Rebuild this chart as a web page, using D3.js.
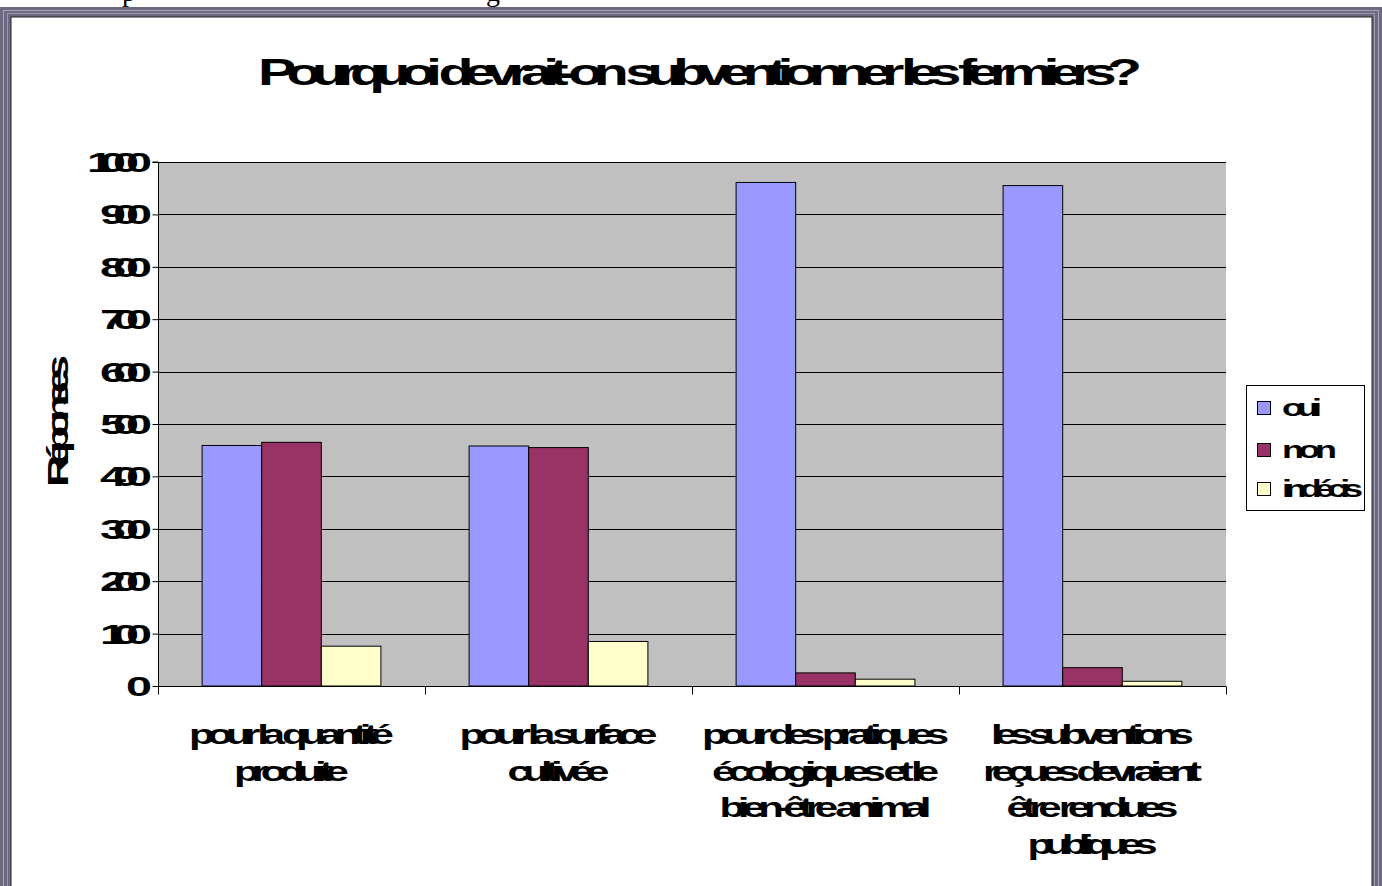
<!DOCTYPE html>
<html><head><meta charset="utf-8">
<script src="https://cdn.jsdelivr.net/npm/d3@7/dist/d3.min.js"></script>
<style>html,body{margin:0;padding:0;background:#fff;overflow:hidden}</style>
</head><body>
<svg id="c" width="1382" height="886"></svg>
<script>
// ---- data ----
const title = "Pourquoi devrait-on subventionner les fermiers?";
const yTitle = "Réponses";
const categories = [
  "pour la quantité\nproduite",
  "pour la surface\ncultivée",
  "pour des pratiques\nécologiques et le\nbien-être animal",
  "les subventions\nreçues devraient\nêtre rendues\npubliques"
];
const seriesNames = ["oui", "non", "indécis"];
const oui = [459, 458, 961, 955];
const non = [465, 455, 25, 35];
const indecis = [76, 85, 13, 9];
const yTicks = [0, 100, 200, 300, 400, 500, 600, 700, 800, 900, 1000];

// ---- layout / style ----
const colors = ["#9999FF", "#993366", "#FFFFCC"];
const FONT = "'Liberation Sans', Arial, sans-serif";
const catLineWidths = [[205, 115], [198, 102], [247, 227, 212], [203, 219, 172, 130]];
const legendWidths = [40, 55, 81];

const svg = d3.select("#c");

function squish(parent, str, o) {
  const g = parent.append("g").attr("transform",
    `translate(${o.x},${o.y})${o.rotate ? ` rotate(${o.rotate})` : ""} scale(${o.sx},1)`);
  const t = g.append("text")
    .attr("text-anchor", o.anchor || "start")
    .attr("font-family", FONT)
    .attr("font-weight", o.weight || "bold")
    .attr("font-size", o.size)
    .attr("fill", "#000")
    .text(str);
  let w = o.width;
  if (o.overlap !== undefined) {
    const nat = t.node().getComputedTextLength();
    w = nat * o.sx - (str.length - 1) * o.overlap;
  }
  if (w && str.length > 1) t.attr("textLength", w / o.sx).attr("lengthAdjust", "spacing");
  return t;
}

// cut-off text line above the frame (as in the reference)
svg.append("text").attr("x", 122).attr("y", 1).attr("font-family", "'Liberation Serif', serif")
  .attr("font-size", 28).text("p");
svg.append("text").attr("x", 486).attr("y", 1).attr("font-family", "'Liberation Serif', serif")
  .attr("font-size", 28).text("g");

// frame
svg.append("rect").attr("x", 0).attr("y", 7).attr("width", 1382).attr("height", 900).attr("fill", "#6f6a84");
svg.append("rect").attr("x", 3.5).attr("y", 10.5).attr("width", 1375).attr("height", 900)
  .attr("fill", "none").attr("stroke", "#a8a4b8").attr("stroke-width", 1);
svg.append("rect").attr("x", 7.5).attr("y", 13.5).attr("width", 1367).attr("height", 900)
  .attr("fill", "none").attr("stroke", "#9c98ad").attr("stroke-width", 1);
svg.append("rect").attr("x", 11).attr("y", 17).attr("width", 1361).attr("height", 900)
  .attr("fill", "#fff").attr("stroke", "#222").attr("stroke-width", 1);

// title
squish(svg, title, { x: 700, y: 85, size: 37, sx: 1.55, width: 884, anchor: "middle" });

// scales
const x0 = 158, x1 = 1226, yb = 686, yt = 162;
const xScale = d3.scaleBand().domain(categories).range([x0, x1]).padding(0);
const sScale = d3.scaleBand().domain(seriesNames).range([0, xScale.bandwidth()])
  .paddingInner(0).paddingOuter(0.74);
const yScale = d3.scaleLinear().domain([0, 1000]).range([yb, yt]);

const plot = svg.append("g");
plot.append("rect").attr("x", x0).attr("y", yt).attr("width", x1 - x0).attr("height", yb - yt)
  .attr("fill", "#C0C0C0");

// gridlines
plot.selectAll("line.grid").data(yTicks.filter(d => d > 0)).join("line")
  .attr("x1", x0).attr("x2", x1)
  .attr("y1", d => Math.round(yScale(d)) + 0.5).attr("y2", d => Math.round(yScale(d)) + 0.5)
  .attr("stroke", "#000").attr("stroke-width", 1);

// bars
const seriesVals = [oui, non, indecis];
seriesNames.forEach((s, si) => {
  plot.append("g").selectAll("rect").data(categories).join("rect")
    .attr("x", c => xScale(c) + sScale(s))
    .attr("y", (c, i) => yScale(seriesVals[si][i]))
    .attr("width", sScale.bandwidth())
    .attr("height", (c, i) => yb - yScale(seriesVals[si][i]))
    .attr("fill", colors[si]).attr("stroke", "#000").attr("stroke-width", 1);
});

// axes
const yAxis = d3.axisLeft(yScale).tickValues(yTicks).tickSize(6).tickFormat("");
const ya = svg.append("g").attr("transform", `translate(${x0 + 0.5},0)`).call(yAxis);
ya.selectAll("path,line").attr("stroke", "#000");
ya.select(".domain").attr("d", `M-6,${yt}H0V${yb}`);
yTicks.forEach(v => {
  squish(svg, String(v), { x: 152, y: yScale(v) + 10, size: 28, sx: 1.67, overlap: 13, anchor: "end" });
});

const xa = svg.append("g").attr("transform", `translate(0,${yb + 0.5})`);
xa.append("line").attr("x1", x0).attr("x2", x1).attr("stroke", "#000");
const bounds = categories.map(c => xScale(c)).concat([x1]);
xa.selectAll("line.t").data(bounds).join("line")
  .attr("x1", d => d + 0.5).attr("x2", d => d + 0.5).attr("y1", 0).attr("y2", 8).attr("stroke", "#000");

categories.forEach((c, ci) => {
  const cx = xScale(c) + xScale.bandwidth() / 2;
  c.split("\n").forEach((line, li) => {
    squish(svg, line, { x: cx, y: 744 + li * 36.5, size: 28, sx: 1.5, width: catLineWidths[ci][li], anchor: "middle" });
  });
});

// y title
squish(svg, yTitle, { x: 68, y: 421, rotate: -90, size: 30, sx: 1.5, width: 132, anchor: "middle" });

// legend
const lg = svg.append("g");
lg.append("rect").attr("x", 1246.5).attr("y", 385.5).attr("width", 118).attr("height", 125)
  .attr("fill", "#fff").attr("stroke", "#000");
const legY = [416, 458, 497];
seriesNames.forEach((s, i) => {
  lg.append("rect").attr("x", 1257.5).attr("y", legY[i] - 14.5).attr("width", 13).attr("height", 13)
    .attr("fill", colors[i]).attr("stroke", "#000");
  squish(lg, s, { x: 1282, y: legY[i], size: 24, sx: 1.5, width: legendWidths[i], anchor: "start" });
});
</script>
</body></html>
